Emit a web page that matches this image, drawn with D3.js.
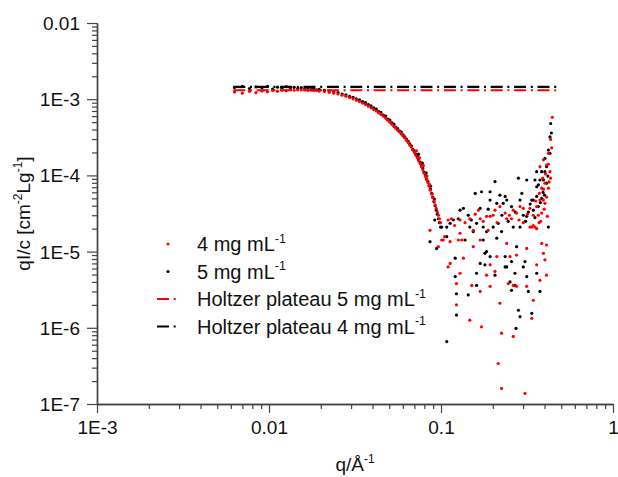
<!DOCTYPE html>
<html>
<head>
<meta charset="utf-8">
<script src="https://cdn.jsdelivr.net/npm/d3@7/dist/d3.min.js"></script>
<style>
  html, body { margin: 0; padding: 0; background: #fff; }
  svg text { font-family: "Liberation Sans", Arial, sans-serif; fill: #111; }
</style>
</head>
<body>
<svg id="chart" width="618" height="477"></svg>
<script>
// ---------- data ----------
const xTickValues = [0.001, 0.01, 0.1, 1];
const xTickLabels = ["1E-3", "0.01", "0.1", "1"];
const yTickValues = [1e-7, 1e-6, 1e-5, 1e-4, 1e-3, 1e-2];
const yTickLabels = ["1E-7", "1E-6", "1E-5", "1E-4", "1E-3", "0.01"];

// q grid of the smooth (low-q) part, shared by both concentrations
const qSmooth = [0.0063,0.0070,0.0077,0.0084,0.0091,0.0098,0.0105,0.0112,0.0119,0.0126,
  0.0133,0.0140,0.0147,0.0154,0.0161,0.0168,0.0175,0.0182,0.0189,0.0196,
  0.0210,0.0224,0.0238,0.0252,0.0266,0.0280,0.0294,0.0308,0.0322,0.0336,
  0.0350,0.0364,0.0378,0.0392,0.0406,0.0420,0.0434,0.0448,0.0462,0.0476,
  0.0490,0.0504,0.0518,0.0532,0.0546,0.0560,0.0574,0.0588,0.0602,0.0616,
  0.0630,0.0644,0.0658,0.0672,0.0686,0.0700,0.0714,0.0728,0.0742,0.0756,
  0.0770,0.0784,0.0798,0.0812,0.0826,0.0840,0.0854,0.0868,0.0882,0.0896,
  0.0910,0.0924,0.0938,0.0952,0.0966,0.0980,0.0994];

// 4 mg/mL (red), smooth part
const red4Smooth = [1.24e-3,1.20e-3,1.27e-3,1.22e-3,1.28e-3,1.25e-3,1.30e-3,1.27e-3,1.31e-3,1.29e-3,
  1.33e-3,1.31e-3,1.33e-3,1.32e-3,1.33e-3,1.31e-3,1.32e-3,1.30e-3,1.30e-3,1.28e-3,
  1.26e-3,1.23e-3,1.20e-3,1.17e-3,1.13e-3,1.09e-3,1.05e-3,1.01e-3,9.7e-4,9.3e-4,
  8.9e-4,8.5e-4,8.1e-4,7.7e-4,7.3e-4,7.0e-4,6.6e-4,6.3e-4,6.0e-4,5.65e-4,
  5.3e-4,5.0e-4,4.7e-4,4.4e-4,4.15e-4,3.9e-4,3.7e-4,3.5e-4,3.3e-4,3.1e-4,
  2.9e-4,2.7e-4,2.5e-4,2.35e-4,2.15e-4,2.0e-4,1.85e-4,1.7e-4,1.55e-4,1.43e-4,
  1.3e-4,1.18e-4,1.07e-4,9.7e-5,8.8e-5,8.0e-5,7.2e-5,6.4e-5,5.7e-5,5.1e-5,
  4.6e-5,4.1e-5,3.7e-5,3.3e-5,3.0e-5,2.7e-5,2.4e-5];

// 5 mg/mL (black), smooth part
const black5Smooth = [1.42e-3,1.47e-3,1.38e-3,1.45e-3,1.40e-3,1.48e-3,1.36e-3,1.44e-3,1.39e-3,1.46e-3,
  1.37e-3,1.43e-3,1.38e-3,1.42e-3,1.36e-3,1.40e-3,1.35e-3,1.38e-3,1.33e-3,1.35e-3,
  1.31e-3,1.29e-3,1.24e-3,1.22e-3,1.17e-3,1.14e-3,1.09e-3,1.06e-3,1.01e-3,9.8e-4,
  9.3e-4,9.0e-4,8.5e-4,8.2e-4,7.7e-4,7.4e-4,6.9e-4,6.7e-4,6.2e-4,6.0e-4,
  5.5e-4,5.3e-4,4.9e-4,4.7e-4,4.3e-4,4.1e-4,3.8e-4,3.7e-4,3.4e-4,3.2e-4,
  3.0e-4,2.8e-4,2.6e-4,2.45e-4,2.2e-4,2.1e-4,1.9e-4,1.78e-4,1.6e-4,1.5e-4,
  1.35e-4,1.25e-4,1.1e-4,1.0e-4,9.0e-5,8.3e-5,7.4e-5,6.6e-5,5.8e-5,5.2e-5,
  4.5e-5,4.0e-5,3.5e-5,3.1e-5,2.7e-5,2.4e-5,2.1e-5];

// noisy high-q part, [q, qI/c]
const red4Noisy = [
  [0.072,2.1e-4],[0.075,1.7e-4],[0.079,1.35e-4],[0.083,9.8e-5],[0.086,7.6e-5],[0.089,5.7e-5],
  [0.444,5.8e-4],[0.434,2.97e-4],[0.421,1.95e-4],[0.394,1.6e-4],[0.411,1.37e-4],[0.430,1.12e-4],
  [0.434,9.2e-5],[0.390,9.2e-5],[0.402,7.9e-5],[0.421,6.8e-5],[0.385,6.8e-5],[0.373,5.8e-5],
  [0.394,4.75e-5],[0.376,4.75e-5],[0.360,3.9e-5],[0.402,4.3e-5],[0.385,3.2e-5],[0.368,3.0e-5],
  [0.344,3.0e-5],[0.352,2.1e-5],[0.337,2.1e-5],[0.329,3.7e-5],[0.301,3.7e-5],[0.263,3.5e-5],
  [0.275,3.2e-5],[0.257,2.7e-5],[0.241,2.7e-5],[0.220,3.9e-5],[0.206,3.5e-5],[0.193,2.9e-5],
  [0.184,2.9e-5],[0.169,2.7e-5],[0.165,3.5e-5],[0.147,2.7e-5],[0.129,2.6e-5],[0.115,2.7e-5],
  [0.110,2.6e-5],[0.101,1.42e-5],[0.0863,1.9e-5],[0.0965,1.16e-5],[0.113,1.35e-5],[0.105,1.57e-5],
  [0.129,1.74e-5],[0.132,1.42e-5],[0.154,1.16e-5],[0.169,1.42e-5],[0.188,1.9e-5],[0.241,1.28e-5],
  [0.252,8.6e-6],[0.275,9.0e-6],[0.315,1.1e-5],[0.360,6.7e-6],[0.385,1.28e-5],[0.411,1.22e-5],
  [0.394,9.5e-6],[0.402,7.8e-6],[0.411,4.9e-6],[0.376,4.2e-6],[0.344,2.3e-6],[0.337,1.33e-6],
  [0.263,7.7e-7],[0.225,8.5e-7],[0.220,2.1e-6],[0.215,3.4e-7],[0.225,1.6e-7],[0.308,1.38e-7],
  [0.246,3.8e-6],[0.263,3.6e-6],[0.206,5.5e-6],[0.184,4.9e-6],[0.193,3.5e-6],[0.169,3.0e-6],
  [0.151,3.6e-6],[0.147,1.26e-6],[0.172,1.03e-6],[0.123,2.0e-6],[0.123,3.8e-6],[0.129,5.2e-6],
  [0.135,8.2e-6],[0.113,7.0e-6],[0.110,6.3e-6],[0.126,1.42e-5],[0.103,1.42e-5],[0.154,1.9e-5],
  [0.211,8.6e-6],[0.193,6.7e-6],[0.275,3.5e-6],[0.315,3.5e-6],[0.344,2.2e-5],[0.329,2.1e-5],
  [0.360,2.0e-5],[0.394,6.6e-5],[0.411,5.2e-5],[0.376,1.3e-4],[0.421,1.4e-4],[0.201,3.0e-5],
  [0.236,3.2e-5],[0.288,3.9e-5],[0.301,2.4e-5],[0.176,2.5e-5],[0.138,2.4e-5],
  [0.380,2.5e-5],[0.398,3.6e-5],[0.415,2.9e-5],[0.356,4.6e-5],[0.318,3.1e-5],[0.284,2.6e-5],
  [0.425,8.2e-5],[0.405,1.05e-4],[0.440,2.3e-4],[0.372,2.4e-5],[0.250,3.0e-5],[0.212,2.4e-5],
  [0.158,3.1e-5],[0.120,2.2e-5]
];

const black5Noisy = [
  [0.074,1.9e-4],[0.078,1.45e-4],[0.082,1.08e-4],[0.087,7.2e-5],[0.0915,4.9e-5],
  [0.434,4.8e-4],[0.438,3.6e-4],[0.430,3.2e-4],[0.421,2.15e-4],[0.402,1.67e-4],[0.411,1.3e-4],
  [0.385,1.12e-4],[0.376,8.7e-5],[0.360,7.1e-5],[0.352,8.7e-5],[0.315,8.7e-5],[0.282,9.2e-5],
  [0.206,8.3e-5],[0.193,6.1e-5],[0.172,6.1e-5],[0.158,5.8e-5],[0.220,5.5e-5],[0.236,5.3e-5],
  [0.241,4.75e-5],[0.230,4.3e-5],[0.211,4.3e-5],[0.169,3.7e-5],[0.135,3.7e-5],[0.126,2.7e-5],
  [0.118,2.6e-5],[0.113,2.35e-5],[0.108,2.1e-5],[0.147,2.1e-5],[0.154,1.83e-5],[0.161,2.35e-5],
  [0.176,2.1e-5],[0.201,2.1e-5],[0.215,2.35e-5],[0.225,1.83e-5],[0.246,2.5e-5],[0.263,2.1e-5],
  [0.288,2.1e-5],[0.301,3.0e-5],[0.322,3.3e-5],[0.344,3.5e-5],[0.368,3.9e-5],[0.385,5.0e-5],
  [0.360,5.3e-5],[0.344,4.75e-5],[0.421,2.1e-5],[0.0863,1.35e-5],[0.0943,1.1e-5],[0.092,2.6e-5],
  [0.176,1.42e-5],[0.184,1.0e-5],[0.180,9.5e-6],[0.193,8.6e-6],[0.236,8.6e-6],[0.241,6.3e-6],
  [0.257,7.4e-6],[0.275,1.16e-5],[0.269,5.2e-6],[0.301,6.3e-6],[0.308,7.4e-6],[0.315,4.7e-6],
  [0.360,5.2e-6],[0.376,3.0e-6],[0.322,3.0e-6],[0.269,3.6e-6],[0.257,3.1e-6],[0.252,4.0e-6],
  [0.161,5.2e-6],[0.161,3.6e-6],[0.144,2.7e-6],[0.123,2.8e-6],[0.123,1.47e-6],[0.108,6.6e-7],
  [0.282,1.7e-6],[0.288,1.4e-6],[0.337,1.55e-6],[0.273,9.8e-7],[0.169,7.0e-6],[0.180,6.7e-6],
  [0.206,4.9e-6],[0.236,6.3e-6],[0.121,8.2e-6],[0.121,4.7e-6],[0.108,1.57e-5],[0.101,2.1e-5],
  [0.138,1.42e-5],[0.211,1.5e-5],[0.315,2.9e-5],[0.402,1.12e-4],[0.368,7.5e-5],[0.394,8.7e-5],
  [0.337,4.75e-5],[0.288,4.75e-5],[0.257,3.9e-5],[0.193,4.75e-5],[0.129,3.5e-5],[0.144,3.0e-5],
  [0.184,1.83e-5],[0.430,1.95e-4],[0.360,1.12e-4],[0.411,7.9e-5],
  [0.392,6.0e-5],[0.378,4.4e-5],[0.352,2.8e-5],[0.330,4.2e-5],[0.310,2.5e-5],[0.270,3.3e-5],
  [0.418,9.8e-5],[0.400,5.5e-5],[0.226,3.0e-5],[0.188,3.6e-5],[0.150,2.6e-5],[0.295,5.8e-5]
];

// Holtzer plateau lines: [qStart, qEnd], level
const plateauQ = [0.0062, 0.49];
const plateau5 = 1.31e-3;   // red dash-dot
const plateau4 = 1.45e-3;   // black dash-dot

const legendLabels = ["4 mg mL", "5 mg mL", "Holtzer plateau 5 mg mL", "Holtzer plateau 4 mg mL"];

// ---------- drawing ----------
const svg = d3.select("#chart");
const x = d3.scaleLog().domain([1e-3, 1]).range([97, 613]);
const y = d3.scaleLog().domain([1e-7, 1e-2]).range([404, 23]);

const axisColor = "#444";
const fontSize = 19;

function minorTicks(domain) {
  const out = [];
  const lo = Math.round(Math.log10(domain[0])), hi = Math.round(Math.log10(domain[1]));
  for (let e = lo; e < hi; e++) for (let m = 2; m <= 9; m++) out.push(m * Math.pow(10, e));
  return out;
}

const gxm = svg.append("g").attr("transform", "translate(0,404)")
  .call(d3.axisBottom(x).tickValues(minorTicks(x.domain())).tickSize(5).tickSizeOuter(0).tickFormat(""));
const gx = svg.append("g").attr("transform", "translate(0,404)")
  .call(d3.axisBottom(x).tickValues(xTickValues).tickSize(9).tickSizeOuter(0)
    .tickFormat((d, i) => xTickLabels[i]).tickPadding(8));
const gym = svg.append("g").attr("transform", "translate(97,0)")
  .call(d3.axisLeft(y).tickValues(minorTicks(y.domain())).tickSize(5).tickSizeOuter(0).tickFormat(""));
const gy = svg.append("g").attr("transform", "translate(97,0)")
  .call(d3.axisLeft(y).tickValues(yTickValues).tickSize(10).tickSizeOuter(0)
    .tickFormat((d, i) => yTickLabels[i]).tickPadding(7));

[gx, gxm, gy, gym].forEach(g => {
  g.selectAll("path.domain").attr("stroke", axisColor).attr("stroke-width", 1.4);
  g.selectAll(".tick line").attr("stroke", axisColor).attr("stroke-width", 1.2);
  g.selectAll(".tick text").attr("font-size", fontSize)
    .attr("font-family", '"Liberation Sans", Arial, sans-serif').attr("fill", "#111");
});
gy.selectAll(".tick text").attr("dy", "0.34em");

const blackPts = qSmooth.map((q, i) => [q, black5Smooth[i]]).concat(black5Noisy);
const redPts = qSmooth.map((q, i) => [q, red4Smooth[i]]).concat(red4Noisy);

svg.append("g").selectAll("circle").data(blackPts).join("circle")
  .attr("cx", d => x(d[0])).attr("cy", d => y(d[1])).attr("r", 1.6).attr("fill", "#000");
svg.append("g").selectAll("circle").data(redPts).join("circle")
  .attr("cx", d => x(d[0])).attr("cy", d => y(d[1])).attr("r", 1.6).attr("fill", "#ff0000");

const dash = "12,4.7,2,4.7";
svg.append("line").attr("x1", x(plateauQ[0])).attr("x2", x(plateauQ[1]))
  .attr("y1", y(plateau4)).attr("y2", y(plateau4))
  .attr("stroke", "#000").attr("stroke-width", 2.2).attr("stroke-dasharray", dash);
svg.append("line").attr("x1", x(plateauQ[0])).attr("x2", x(plateauQ[1]))
  .attr("y1", y(plateau5)).attr("y2", y(plateau5))
  .attr("stroke", "#ff0000").attr("stroke-width", 2.2).attr("stroke-dasharray", dash);

const legendY = [244, 271.5, 299, 326.5];
const legFont = 20;
const leg = svg.append("g");
leg.append("circle").attr("cx", 168).attr("cy", legendY[0]).attr("r", 1.6).attr("fill", "#ff0000");
leg.append("circle").attr("cx", 168).attr("cy", legendY[1]).attr("r", 1.6).attr("fill", "#000");
leg.append("line").attr("x1", 157).attr("x2", 180).attr("y1", legendY[2]).attr("y2", legendY[2])
  .attr("stroke", "#ff0000").attr("stroke-width", 2.2).attr("stroke-dasharray", "12,4.7,2,20");
leg.append("line").attr("x1", 157).attr("x2", 180).attr("y1", legendY[3]).attr("y2", legendY[3])
  .attr("stroke", "#000").attr("stroke-width", 2.2).attr("stroke-dasharray", "12,4.7,2,20");
legendLabels.forEach((lab, i) => {
  const t = leg.append("text").attr("x", 197).attr("y", legendY[i] + 7).attr("font-size", legFont);
  t.append("tspan").text(lab);
  t.append("tspan").attr("font-size", 12.5).attr("dy", -8.5).text("-1");
});

const xt = svg.append("text").attr("x", 355).attr("y", 471).attr("text-anchor", "middle").attr("font-size", fontSize);
xt.append("tspan").text("q/Å");
xt.append("tspan").attr("font-size", 12).attr("dy", -8).text("-1");

const yt = svg.append("text").attr("transform", "translate(30,213.5) rotate(-90)")
  .attr("text-anchor", "middle").attr("font-size", fontSize);
yt.append("tspan").text("qI/c [cm");
yt.append("tspan").attr("font-size", 12).attr("dy", -8).text("-2");
yt.append("tspan").attr("dy", 8).text("Lg");
yt.append("tspan").attr("font-size", 12).attr("dy", -8).text("-1");
yt.append("tspan").attr("dy", 8).text("]");
</script>
</body>
</html>
